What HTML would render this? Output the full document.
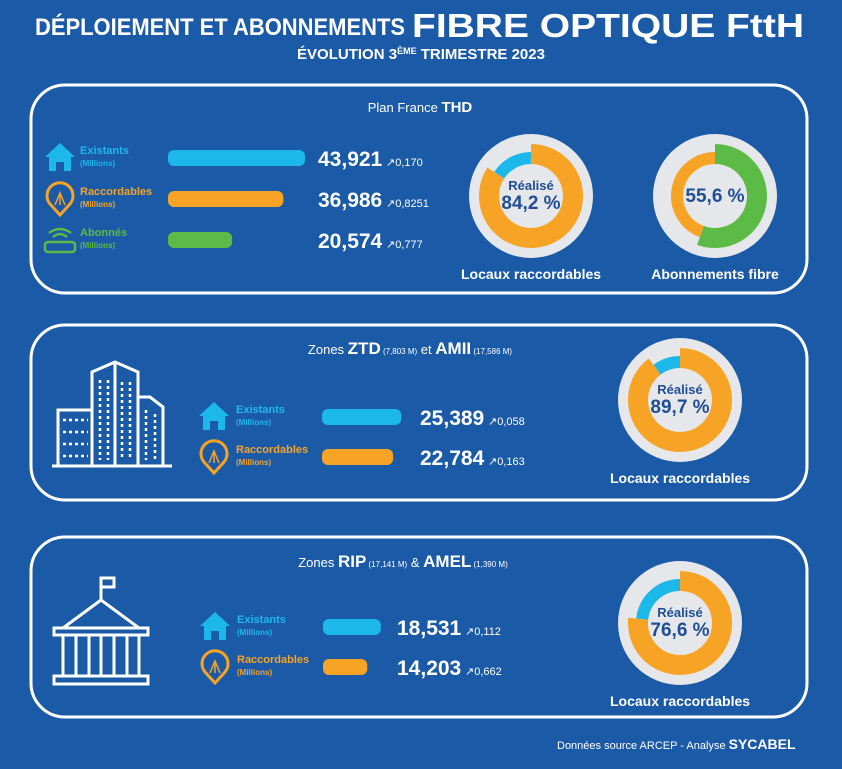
<!DOCTYPE html>
<html><head><meta charset="utf-8"><style>
html,body{margin:0;padding:0;background:#1b5aa6;}
svg{display:block;font-family:"Liberation Sans",sans-serif;}
</style></head><body>
<svg id="c" width="842" height="769" viewBox="0 0 842 769">
<rect x="0" y="0" width="842" height="769" fill="#1b5aa6"/>
<text x="35" y="35" font-size="24" font-weight="bold" fill="#fff" textLength="370" lengthAdjust="spacingAndGlyphs">DÉPLOIEMENT ET ABONNEMENTS</text>
<text x="412" y="37" font-size="33" font-weight="bold" fill="#fff" textLength="392" lengthAdjust="spacingAndGlyphs">FIBRE OPTIQUE FttH</text>
<text x="421" y="59" font-size="15" font-weight="bold" fill="#fff" text-anchor="middle">ÉVOLUTION 3<tspan font-size="9" dy="-5">ÈME</tspan><tspan dy="5"> TRIMESTRE 2023</tspan></text>
<rect x="31" y="85" width="776" height="208" rx="34" fill="none" stroke="#fff" stroke-width="3"/>
<rect x="31" y="325" width="776" height="175" rx="34" fill="none" stroke="#fff" stroke-width="3"/>
<rect x="31" y="537" width="776" height="180" rx="34" fill="none" stroke="#fff" stroke-width="3"/>
<text x="420" y="112" font-size="13" fill="#fff" text-anchor="middle">Plan France <tspan font-weight="bold" font-size="15">THD</tspan></text>
<text x="410" y="354" font-size="13" fill="#fff" text-anchor="middle">Zones <tspan font-weight="bold" font-size="17">ZTD</tspan><tspan font-size="8"> (7,803 M)</tspan> et <tspan font-weight="bold" font-size="17">AMII</tspan><tspan font-size="8"> (17,586 M)</tspan></text>
<text x="403" y="567" font-size="13" fill="#fff" text-anchor="middle">Zones <tspan font-weight="bold" font-size="17">RIP</tspan><tspan font-size="8"> (17,141 M)</tspan> &amp; <tspan font-weight="bold" font-size="17">AMEL</tspan><tspan font-size="8"> (1,390 M)</tspan></text>
<!-- building icon -->
<g fill="none" stroke="#fff" stroke-width="3">
<line x1="52" y1="466" x2="172" y2="466"/>
<rect x="58" y="410" width="34" height="56"/>
<path d="M92 466 V372 L115 362 L138 372 V466"/>
<path d="M138 397 H150 L163 407 V466 H138"/>
<line x1="115" y1="362" x2="115" y2="466"/>
<g stroke-width="2.5" stroke-dasharray="3 3">
<path d="M63 420H88M63 432H88M63 444H88M63 456H88"/>
<path d="M100 380V460M108 380V460M122 382V460M130 382V460M146 410V460M155 414V460"/>
</g>
</g>
<!-- temple icon -->
<g fill="none" stroke="#fff" stroke-width="3">
<line x1="101" y1="600" x2="101" y2="578"/>
<rect x="101" y="578" width="13" height="9"/>
<path d="M63 628 L101 600 L139 628 Z"/>
<rect x="54" y="628" width="94" height="7"/>
<rect x="54" y="676" width="94" height="8"/>
<path d="M63 635V676M76 635V676M89 635V676M101 635V676M114 635V676M127 635V676M139 635V676"/>
</g>
<text x="557" y="749" font-size="11" fill="#fff">Données source ARCEP - Analyse <tspan font-weight="bold" font-size="14">SYCABEL</tspan></text>
<g id="rows"></g>
<g id="donuts"></g>
</svg>
<script>
// bar rows
const rowLabels = ["Existants","Raccordables","Abonnés","Existants","Raccordables","Existants","Raccordables"];
const rowValues = [43.921,36.986,20.574,25.389,22.784,18.531,14.203];
const rowValueText = ["43,921","36,986","20,574","25,389","22,784","18,531","14,203"];
const rowDeltas = ["0,170","0,8251","0,777","0,058","0,163","0,112","0,662"];
const rowKinds = ["house","pin","box","house","pin","house","pin"];
// donuts
const donutPct = [84.2,55.6,89.7,76.6];
const donutTitles = ["Locaux raccordables","Abonnements fibre","Locaux raccordables","Locaux raccordables"];
const donutShowRealise = [true,false,true,true];

const NS="http://www.w3.org/2000/svg";
const colors={house:"#1db8ea",pin:"#f7a325",box:"#5cba47"};
const layout=[ // icon x, label x, bar x, value x, y center
 [60,80,168,318,158],[60,80,168,318,199],[60,80,168,318,240],
 [214,236,322,420,417],[214,236,322,420,457],
 [215,237,323,397,627],[215,237,323,397,667]];
const scale=3.12;
function mk(tag,attrs,parent){const e=document.createElementNS(NS,tag);for(const k in attrs)e.setAttribute(k,attrs[k]);parent.appendChild(e);return e;}
const rows=document.getElementById('rows');
rowValues.forEach((v,i)=>{
  const [ix,lx,bx,vx,y]=layout[i];const kind=rowKinds[i];const col=colors[kind];
  const g=mk('g',{},rows);
  
  
  let ic;
  if(kind==='house'){ic=mk('path',{d:`M${ix-15} ${y-1} L${ix} ${y-15} L${ix+15} ${y-1} H${ix+11} V${y+13} H${ix+4} V${y+4} H${ix-4} V${y+13} H${ix-11} V${y-1} Z`,fill:col},g);}
  else if(kind==='pin'){ic=mk('path',{d:`M${ix} ${y+16} L${ix-10} ${y+5} A13 13 0 1 1 ${ix+10} ${y+5} Z`,fill:"none",stroke:col,'stroke-width':3},g);
    mk('path',{d:`M${ix-5} ${y+6} L${ix} ${y-6} L${ix+5} ${y+6} M${ix} ${y+6} V${y-6}`,stroke:col,'stroke-width':1.5,fill:'none'},g);}
  else {ic=mk('g',{},g);mk('rect',{x:ix-15,y:y+2,width:30,height:10,rx:3,fill:'none',stroke:col,'stroke-width':2.5},ic);
    mk('path',{d:`M${ix-7} ${y-3} Q${ix} ${y-9} ${ix+7} ${y-3} M${ix-11} ${y-7} Q${ix} ${y-15} ${ix+11} ${y-7}`,fill:'none',stroke:col,'stroke-width':2.5},ic);}
  
  
  const t=mk('text',{x:lx,y:y-4,'font-size':11,'font-weight':'bold',fill:col},g);t.textContent=rowLabels[i];
  
  
  const t2=mk('text',{x:lx,y:y+8,'font-size':8,'font-weight':'bold',fill:col},g);t2.textContent='(Millions)';
  
  
  const b=mk('rect',{x:bx,y:y-8,width:v*scale,height:16,rx:6,fill:col},g);
  
  
  const vt=mk('text',{x:vx,y:y+8,'font-size':21,'font-weight':'bold',fill:'#fff'},g);vt.textContent=rowValueText[i];
  
  
  const dt=mk('text',{x:vx+68,y:y+8,'font-size':11,fill:'#fff'},g);dt.textContent='↗'+rowDeltas[i];
  
  
});
const dl=[[531,196,'#f7a325','#1db8ea'],[715,196,'#5cba47','#f7a325'],[680,400,'#f7a325','#1db8ea'],[680,623,'#f7a325','#1db8ea']];
const donuts=document.getElementById('donuts');
function arc(cx,cy,r,a0,a1){const p=a=>[cx+r*Math.sin(a),cy-r*Math.cos(a)];const [x0,y0]=p(a0),[x1,y1]=p(a1);const large=(a1-a0)>Math.PI?1:0;return `M${x0} ${y0} A${r} ${r} 0 ${large} 1 ${x1} ${y1}`;}
donutPct.forEach((p,i)=>{
  const [cx,cy,c1,c2]=dl[i];
  const g=mk('g',{},donuts);
  
  
  mk('circle',{cx,cy,r:62,fill:'#e6e7eb'},g);
  const a=p/100*2*Math.PI;
  const rest=mk('path',{d:arc(cx,cy,38,a,2*Math.PI-0.0001),fill:'none',stroke:c2,'stroke-width':12},g);
  
  
  const done=mk('path',{d:arc(cx,cy,42,0,a),fill:'none',stroke:c1,'stroke-width':20},g);
  
  
  const pt=p.toFixed(1).replace('.',',')+' %';
  if(donutShowRealise[i]){
    const r=mk('text',{x:cx,y:cy-6,'font-size':13,'font-weight':'bold',fill:'#1f4e94','text-anchor':'middle'},g);r.textContent='Réalisé';
    
    
    const v=mk('text',{x:cx,y:cy+13,'font-size':19,'font-weight':'bold',fill:'#1f4e94','text-anchor':'middle'},g);v.textContent=pt;
    
    
  } else {
    const v=mk('text',{x:cx,y:cy+6,'font-size':19,'font-weight':'bold',fill:'#1f4e94','text-anchor':'middle'},g);v.textContent=pt;
    
    
  }
  const tt=mk('text',{x:cx,y:cy+83,'font-size':14,'font-weight':'bold',fill:'#fff','text-anchor':'middle'},g);tt.textContent=donutTitles[i];
  
  
});
</script>
</body></html>
